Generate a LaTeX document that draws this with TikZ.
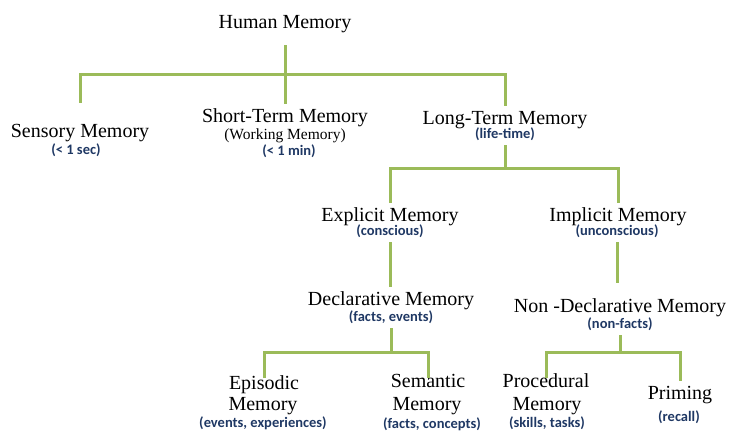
\documentclass[tikz,border=0pt]{standalone}
\usepackage{fontspec}
\setmainfont{Liberation Serif}
\newfontfamily\subfont{Carlito}
\definecolor{branchgreen}{RGB}{155,187,89}
\definecolor{subblue}{RGB}{31,56,100}
\begin{document}
\begin{tikzpicture}[x=1pt,y=-1pt,
		ttl/.style={font=\fontsize{20}{24}\selectfont,anchor=base,inner sep=0pt,text height=14pt,text depth=4pt,inner ysep=4pt},
		wrk/.style={font=\fontsize{15.5}{19}\selectfont,anchor=base,inner sep=0pt},
		sub/.style={font=\subfont\bfseries\fontsize{14.5}{17}\selectfont,text=subblue,anchor=base,inner sep=0pt,text depth=4pt,inner ysep=3pt},
		branch/.style={draw=branchgreen,line width=3pt}]
	\useasboundingbox (0,0) rectangle (746,440);
	\coordinate (lv1) at (0,74);
	\coordinate (lv2) at (0,168);
	\coordinate (lv4) at (0,352);
	\foreach \id/\x/\y/\t in {hm/285/28/Human Memory,sen/80/137/Sensory Memory,stm/285/122/Short-Term Memory,ltm/505/124/Long-Term Memory,
		exm/390/221/Explicit Memory,imm/618/221/Implicit Memory,dcm/391/305/Declarative Memory,ndm/620/312/Non -Declarative Memory,
		epi/264/389/Episodic,epim/263/410/Memory,sem/428/387/Semantic,semm/427/410/Memory,pro/546/387/Procedural,prom/547/410/Memory,pri/680/399/Priming}
		\node[ttl] (\id) at (\x,\y) {\t};
	\node[wrk] (stmw) at (285,139) {(Working Memory)};
	\foreach \id/\x/\y/\t in {sens/76/154/{(< 1 sec)},stms/289/155/{(< 1 min)},ltms/505/138/{(life-time)},exms/390/235/{(conscious)},imms/617/235/{(unconscious)},
		dcms/391/321/{(facts, events)},ndms/620/328/{(non-facts)},epis/263/427/{(events, experiences)},sems/432/428/{(facts, concepts)},pros/547/427/{(skills, tasks)},pris/679/421/{(recall)}}
		\node[sub] (\id) at (\x,\y) {\t};
	\draw[branch,shorten <=16pt] (sen.north) |- (hm.south |- lv1) -| (ltm.north);
	\draw[branch,shorten <=9pt] (hm.south) -- (hm.south |- stm.north);
	\draw[branch] (ltms.south) -- (ltms.south |- lv2);
	\draw[branch] (exm.north) |- (ltms.south |- lv2) -| (imm.north);
	\draw[branch] (exms.south) -- (exms.south |- dcm.north);
	\draw[branch,shorten >=11pt] (imms.south) -- (imms.south |- ndm.north);
	\draw[branch] (dcms.south) -- (dcms.south |- lv4);
	\draw[branch,shorten <=-7pt,shorten >=-9pt] (epi.north) |- (dcms.south |- lv4) -| (sem.north);
	\draw[branch] (ndms.south) -- (ndms.south |- lv4);
	\draw[branch,shorten <=-9pt] (pro.north) |- (ndms.south |- lv4) -| (pri.north);
\end{tikzpicture}
\end{document}
